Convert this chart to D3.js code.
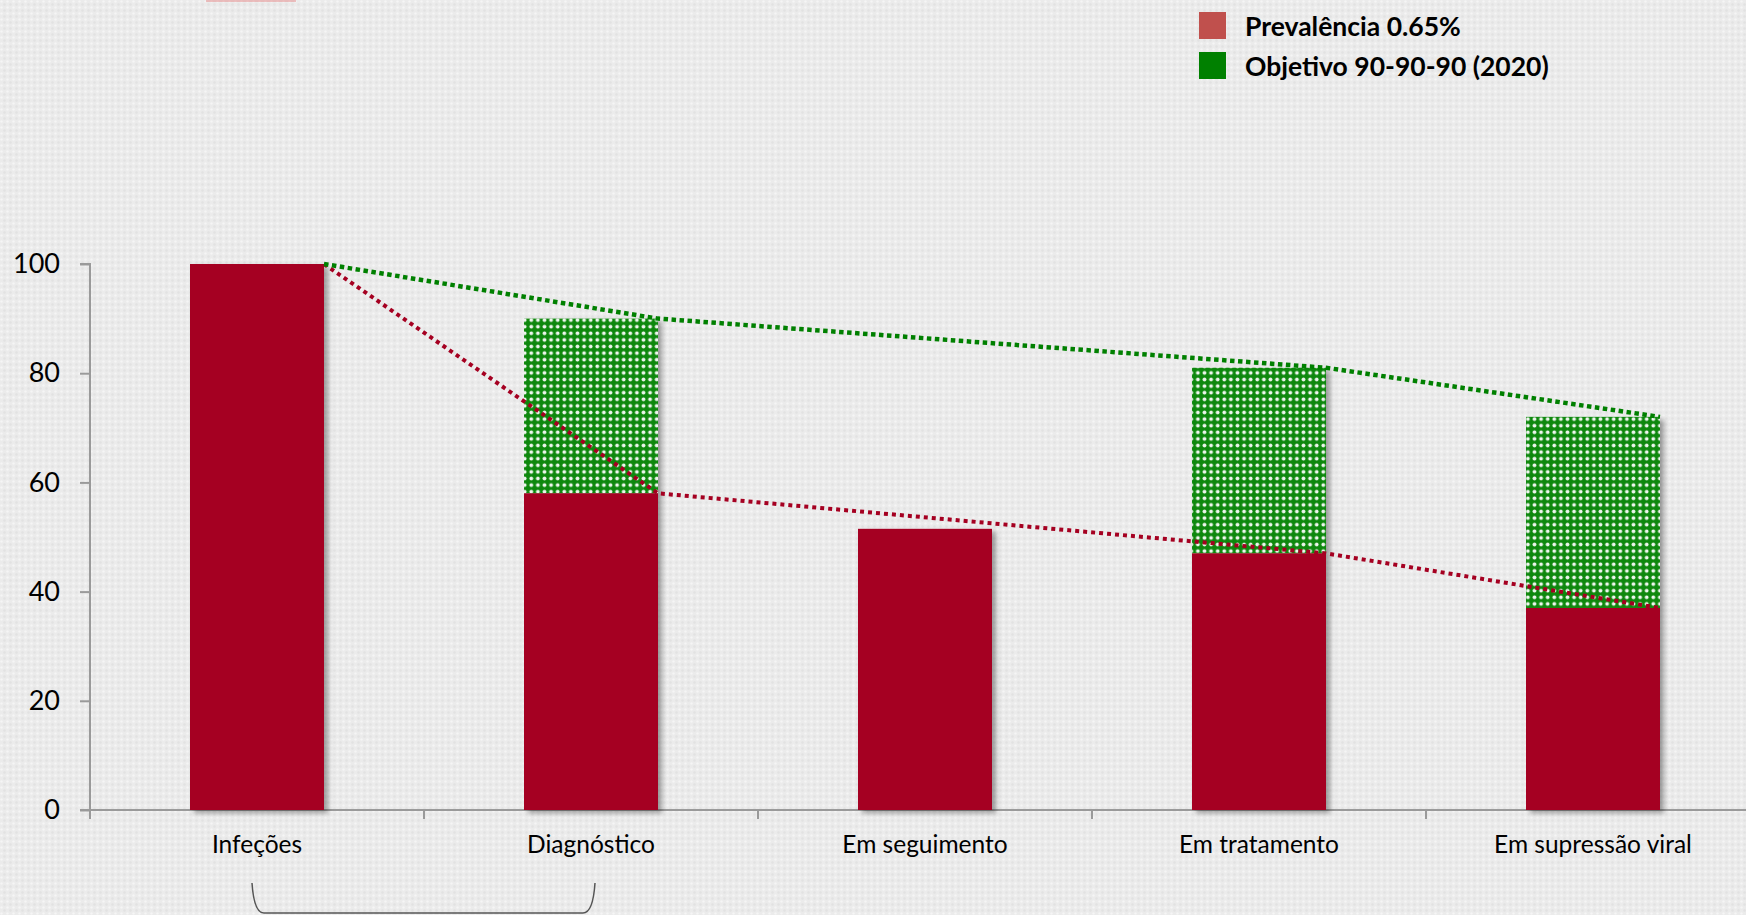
<!DOCTYPE html>
<html>
<head>
<meta charset="utf-8">
<script src="https://cdn.jsdelivr.net/npm/d3@7"></script>
<style>
  body { margin: 0; background: #ececec; }
  svg { display: block; font-family: Lato, "Open Sans", sans-serif; }
</style>
</head>
<body>
<svg id="chart"></svg>
<script>
const WIDTH = 1746;
const HEIGHT = 915;

const LEFT = 90;
const STEP = 334;
const TOP = 264;
const BOTTOM = 810;

// data
const categories = ["Infeções", "Diagnóstico", "Em seguimento", "Em tratamento", "Em supressão viral"];
const prevalence = [100, 58, 51.5, 47, 37];
const objetivo = [null, 90, null, 81, 72];
const yTicks = [0, 20, 40, 60, 80, 100];
const legendLabels = ["Prevalência 0.65%", "Objetivo 90-90-90 (2020)"];
const legendColors = ["#c0504d", "#008000"];

const svg = d3.select('#chart').attr('width', WIDTH).attr('height', HEIGHT);
const defs = svg.append('defs');

// textured background
const bg = defs.append('pattern').attr('id', 'bg')
    .attr('width', 6).attr('height', 6).attr('patternUnits', 'userSpaceOnUse');
bg.append('rect').attr('width', 6).attr('height', 6).attr('fill', '#ebebeb');
bg.append('circle').attr('cx', 1.5).attr('cy', 1.5).attr('r', 1.2).attr('fill', '#f5f5f5');
bg.append('circle').attr('cx', 4.5).attr('cy', 4.5).attr('r', 1.2).attr('fill', '#e2e2e2');

// green dotted fill
const dots = defs.append('pattern').attr('id', 'dots')
    .attr('width', 6.6).attr('height', 6.6).attr('patternUnits', 'userSpaceOnUse');
dots.append('rect').attr('width', 6.6).attr('height', 6.6).attr('fill', '#10880f');
dots.append('circle').attr('cx', 3.3).attr('cy', 3.3).attr('r', 1.9).attr('fill', '#eef6ee');

const shadow = defs.append('filter').attr('id', 'shadow')
    .attr('x', '-10%').attr('y', '-10%').attr('width', '130%').attr('height', '130%');
shadow.append('feDropShadow').attr('dx', 4).attr('dy', 3).attr('stdDeviation', 2.5)
    .attr('flood-color', '#000').attr('flood-opacity', 0.35);

svg.append('rect').attr('width', WIDTH).attr('height', HEIGHT).attr('fill', 'url(#bg)');

// small remnant at the top edge
svg.append('rect').attr('x', 206).attr('y', 0).attr('width', 90).attr('height', 2)
    .attr('fill', '#e58a8a').attr('opacity', 0.5);

const x = d3.scaleBand()
    .domain(categories)
    .range([LEFT, LEFT + STEP * categories.length])
    .paddingInner(0.5988)
    .paddingOuter(0.2994);

const y = d3.scaleLinear().domain([0, 100]).range([BOTTOM, TOP]);

// y axis
const yAxis = svg.append('g')
    .attr('transform', `translate(${LEFT},0)`)
    .call(d3.axisLeft(y).tickValues(yTicks).tickSize(10).tickPadding(20));
yAxis.select('.domain').attr('stroke', '#9a9a9a').attr('stroke-width', 2)
    .attr('d', `M-10,${y(100)}H0V${y(0)}`);
yAxis.selectAll('.tick line').attr('stroke', '#9a9a9a').attr('stroke-width', 2);
yAxis.selectAll('.tick text').attr('font-size', 27).attr('fill', '#000')
    .attr('font-family', 'Lato, sans-serif');

// x axis line + boundary ticks
svg.append('line')
    .attr('x1', LEFT - 10).attr('x2', WIDTH)
    .attr('y1', y(0)).attr('y2', y(0))
    .attr('stroke', '#9a9a9a').attr('stroke-width', 2);

const boundaries = d3.range(categories.length + 1).map(i => x.range()[0] + i * x.step());
svg.selectAll('.xtick')
    .data(boundaries)
    .join('line')
    .attr('class', 'xtick')
    .attr('x1', d => d).attr('x2', d => d)
    .attr('y1', y(0)).attr('y2', y(0) + 9)
    .attr('stroke', '#9a9a9a').attr('stroke-width', 2);

svg.selectAll('.xlabel')
    .data(categories)
    .join('text')
    .attr('class', 'xlabel')
    .attr('x', d => x(d) + x.bandwidth() / 2)
    .attr('y', y(0) + 43)
    .attr('text-anchor', 'middle')
    .attr('font-size', 24.5)
    .attr('fill', '#000')
    .text(d => d);

// bars
const bars = svg.selectAll('.bar')
    .data(categories.map((c, i) => ({ c, p: prevalence[i], o: objetivo[i] })))
    .join('g')
    .attr('class', 'bar')
    .attr('filter', 'url(#shadow)');

bars.filter(d => d.o != null)
    .append('rect')
    .attr('x', d => x(d.c))
    .attr('width', x.bandwidth())
    .attr('y', d => y(d.o))
    .attr('height', d => y(d.p) - y(d.o))
    .attr('fill', 'url(#dots)');

bars.append('rect')
    .attr('x', d => x(d.c))
    .attr('width', x.bandwidth())
    .attr('y', d => y(d.p))
    .attr('height', d => y(0) - y(d.p))
    .attr('fill', '#a50021');

// dotted trend lines through the bar corners (skipping "Em seguimento")
const linePts = categories
    .map((c, i) => ({ c, p: prevalence[i], o: i === 0 ? prevalence[i] : objetivo[i] }))
    .filter(d => d.o != null);

const line = d3.line().x(d => x(d.c) + x.bandwidth());

svg.append('path')
    .datum(linePts)
    .attr('d', line.y(d => y(d.p)))
    .attr('fill', 'none')
    .attr('stroke', '#a50021')
    .attr('stroke-width', 4)
    .attr('stroke-dasharray', '4 4');

svg.append('path')
    .datum(linePts)
    .attr('d', line.y(d => y(d.o)))
    .attr('fill', 'none')
    .attr('stroke', '#008000')
    .attr('stroke-width', 4.5)
    .attr('stroke-dasharray', '4.5 3.5');

// legend
const legend = svg.selectAll('.legend')
    .data(legendLabels)
    .join('g')
    .attr('class', 'legend')
    .attr('transform', (_, i) => `translate(1199, ${12 + i * 40})`);

legend.append('rect')
    .attr('width', 27).attr('height', 27)
    .attr('fill', (_, i) => legendColors[i]);

legend.append('text')
    .attr('x', 46)
    .attr('y', 24)
    .attr('font-size', 26.5)
    .attr('font-weight', 'bold')
    .attr('fill', '#000')
    .text(d => d);

// bracket under the first two categories
const bx1 = x(categories[0]) + x.bandwidth() / 2 - 5;
const bx2 = x(categories[1]) + x.bandwidth() / 2 + 4;
svg.append('path')
    .attr('d', `M${bx1},${y(0) + 73} Q${bx1 + 2},${y(0) + 103} ${bx1 + 12},${y(0) + 103} L${bx2 - 12},${y(0) + 103} Q${bx2 - 2},${y(0) + 103} ${bx2},${y(0) + 73}`)
    .attr('fill', 'none')
    .attr('stroke', '#555')
    .attr('stroke-width', 1.5);
</script>
</body>
</html>
